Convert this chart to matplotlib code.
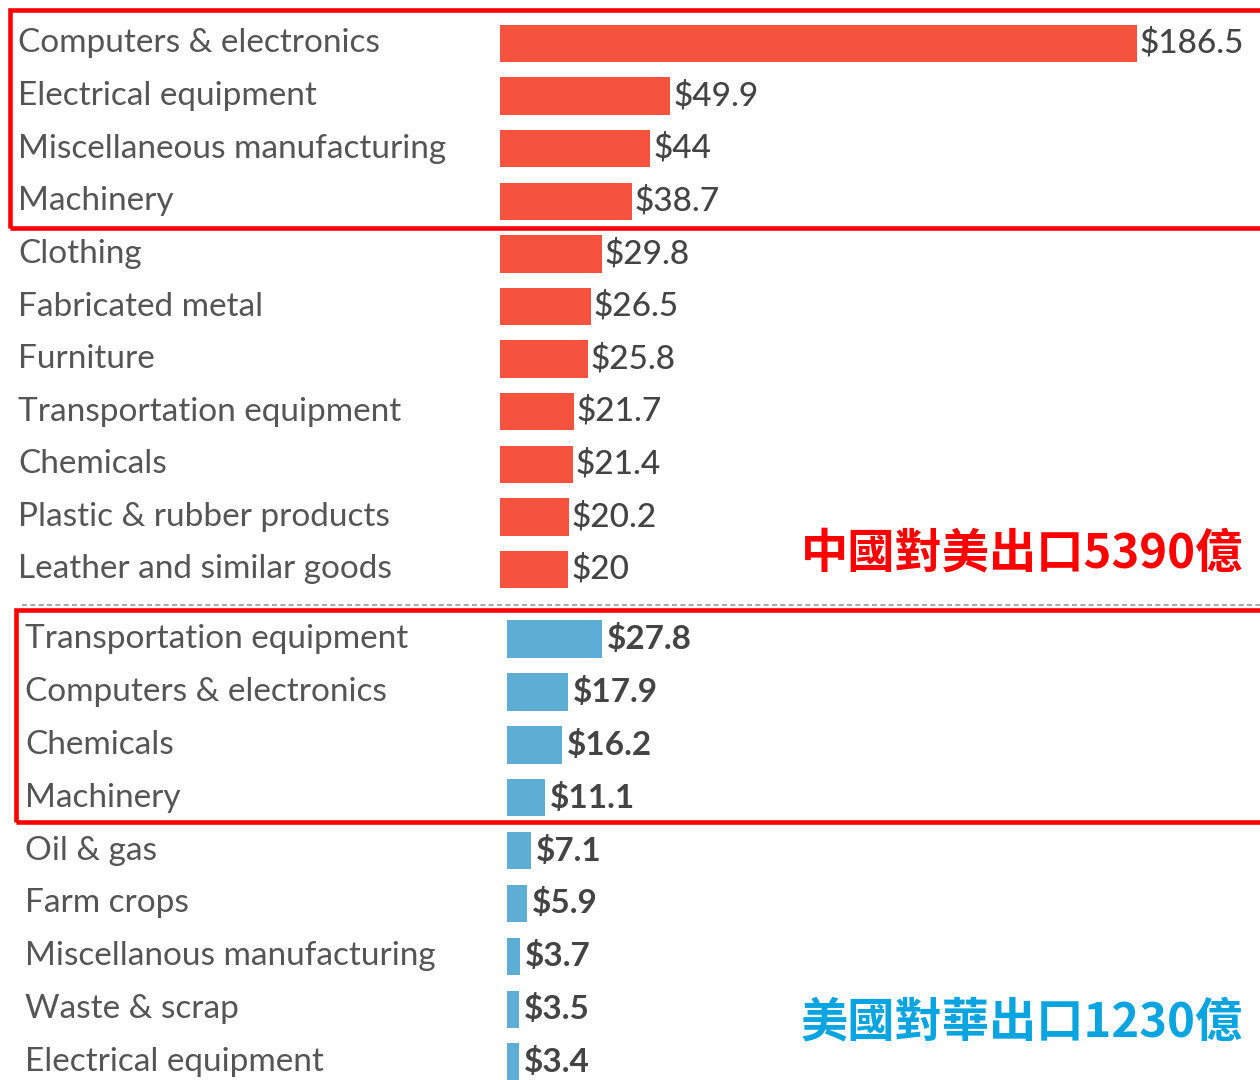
import numpy as np
import matplotlib
matplotlib.use('Agg')
import matplotlib.pyplot as plt
from matplotlib.patches import Rectangle
from matplotlib.lines import Line2D

# China exports to US (billions USD)
cn_labels = ["Computers & electronics", "Electrical equipment", "Miscellaneous manufacturing",
             "Machinery", "Clothing", "Fabricated metal", "Furniture",
             "Transportation equipment", "Chemicals", "Plastic & rubber products",
             "Leather and similar goods"]
cn_values = [186.5, 49.9, 44, 38.7, 29.8, 26.5, 25.8, 21.7, 21.4, 20.2, 20]
cn_text = ["$186.5", "$49.9", "$44", "$38.7", "$29.8", "$26.5", "$25.8",
           "$21.7", "$21.4", "$20.2", "$20"]

# US exports to China (billions USD)
us_labels = ["Transportation equipment", "Computers & electronics", "Chemicals",
             "Machinery", "Oil & gas", "Farm crops", "Miscellanous manufacturing",
             "Waste & scrap", "Electrical equipment"]
us_values = [27.8, 17.9, 16.2, 11.1, 7.1, 5.9, 3.7, 3.5, 3.4]
us_text = ["$27.8", "$17.9", "$16.2", "$11.1", "$7.1", "$5.9", "$3.7", "$3.5", "$3.4"]

cn_title = "中國對美出口5390億"
us_title = "美國對華出口1230億"

W, H = 1260, 1080
fig = plt.figure(figsize=(12.6, 10.8), dpi=100)
fig.patch.set_facecolor('white')

label_font = ['Lato', 'DejaVu Sans']
cjk_font = ['Noto Sans CJK TC', 'DejaVu Sans']
px_per_unit = 3.416


def make_axes(left_px, first_center, spacing, n):
    top = first_center - spacing / 2
    bottom = first_center + spacing * (n - 0.5)
    ax = fig.add_axes([left_px / W, 1 - bottom / H, (W - left_px) / W, (bottom - top) / H])
    ax.set_xlim(0, (W - left_px) / px_per_unit)
    ax.set_ylim(n - 0.5, -0.5)
    ax.axis('off')
    return ax


ax1 = make_axes(500, 43.5, 52.6, len(cn_values))
ax2 = make_axes(507, 639, 52.9, len(us_values))

sections = [
    (ax1, cn_labels, cn_values, cn_text, '#F5533D', 18, 'medium', 2.0),
    (ax2, us_labels, us_values, us_text, '#5EADD4', 25, 'bold', 3.5),
]
for ax, labels, values, texts, color, lx, wt, gap in sections:
    left_px = ax.get_position().x0 * W
    axes_w = ax.get_position().width * W
    y = np.arange(len(values))
    ax.barh(y, values, height=0.71, color=color)
    for yi, v, t in zip(y, values, texts):
        ax.annotate(t, (v, yi), xytext=(gap, 0), textcoords='offset points',
                    va='center', ha='left', fontsize=24, color='#444444',
                    family=label_font, fontweight=wt)
    for yi, lab in zip(y, labels):
        ax.text((lx - left_px) / axes_w, yi, lab, transform=ax.get_yaxis_transform(),
                ha='left', va='center', fontsize=24, color='#555555',
                family=label_font, clip_on=False)

# dashed separator
fig.add_artist(Line2D([22 / W, 1], [1 - 605 / H, 1 - 605 / H], transform=fig.transFigure,
                      color='#999999', lw=1.2, linestyle=(0, (3, 2))))

# highlight boxes
for x0, y0, x1, y1 in [(10, 10, 1265, 228), (16, 610, 1265, 822)]:
    fig.add_artist(Rectangle((x0 / W, 1 - y1 / H), (x1 - x0) / W, (y1 - y0) / H,
                             transform=fig.transFigure, fill=False,
                             edgecolor='#FF0000', lw=3.3))

fig.text(1243 / W, 1 - 553 / H, cn_title, ha='right', va='center', fontsize=34,
         color='#FF0000', family=cjk_font, fontweight='bold')
fig.text(1243 / W, 1 - 1022 / H, us_title, ha='right', va='center', fontsize=34,
         color='#0AA5E0', family=cjk_font, fontweight='bold')

fig.savefig('out.png', dpi=100, facecolor='white')
